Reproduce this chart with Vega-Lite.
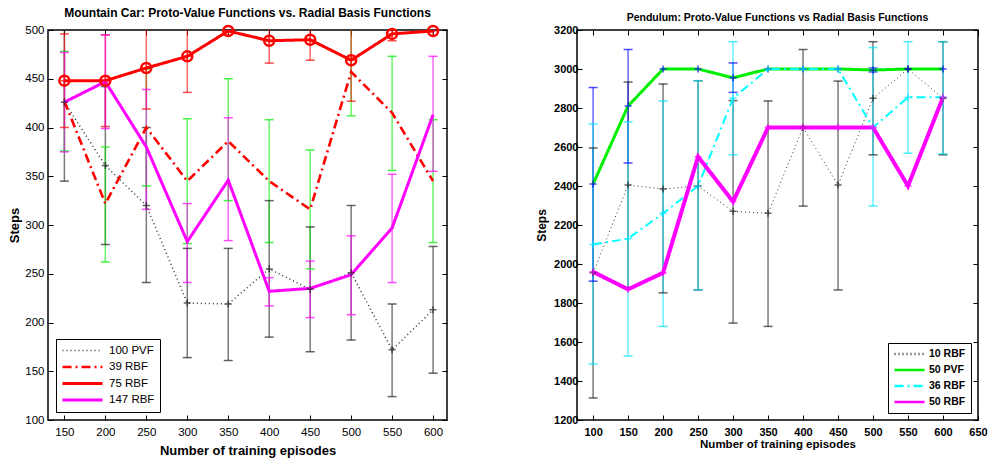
{
  "$schema": "https://vega.github.io/schema/vega-lite/v6.json",
  "background": "white",
  "padding": {"left": 8, "top": 6, "right": 5, "bottom": 0},
  "spacing": 85,
  "resolve": {"legend": {"color": "independent", "strokeDash": "independent"}},
  "config": {
    "font": "Liberation Sans",
    "view": {"stroke": "black", "strokeWidth": 1.5},
    "axis": {"domain": false, "grid": false, "tickColor": "black", "tickSize": -5, "tickWidth": 1, "labelColor": "black", "titleColor": "black", "labelFont": "Liberation Sans", "titleFont": "Liberation Sans", "format": "d", "labelFlush": false, "labelOverlap": false},
    "legend": {"strokeColor": "black", "fillColor": "white", "symbolType": "stroke", "titleFont": "Liberation Sans", "labelFont": "Liberation Sans", "labelColor": "black"}
  },
  "datasets": {
    "mc": [
      {"series": "100 PVF", "episodes": 150, "steps": 426, "lower": 345, "upper": 507},
      {"series": "100 PVF", "episodes": 200, "steps": 361, "lower": 280, "upper": 442},
      {"series": "100 PVF", "episodes": 250, "steps": 320, "lower": 241, "upper": 400},
      {"series": "100 PVF", "episodes": 300, "steps": 220, "lower": 164, "upper": 276},
      {"series": "100 PVF", "episodes": 350, "steps": 219, "lower": 161, "upper": 276},
      {"series": "100 PVF", "episodes": 400, "steps": 255, "lower": 185, "upper": 325},
      {"series": "100 PVF", "episodes": 450, "steps": 234, "lower": 170, "upper": 298},
      {"series": "100 PVF", "episodes": 500, "steps": 251, "lower": 182, "upper": 320},
      {"series": "100 PVF", "episodes": 550, "steps": 172, "lower": 124, "upper": 219},
      {"series": "100 PVF", "episodes": 600, "steps": 213, "lower": 148, "upper": 278},
      {"series": "39 RBF", "episodes": 150, "steps": 427, "lower": 376, "upper": 478},
      {"series": "39 RBF", "episodes": 200, "steps": 322, "lower": 262, "upper": 380},
      {"series": "39 RBF", "episodes": 250, "steps": 400, "lower": 340, "upper": 460},
      {"series": "39 RBF", "episodes": 300, "steps": 345, "lower": 281, "upper": 409},
      {"series": "39 RBF", "episodes": 350, "steps": 386, "lower": 325, "upper": 450},
      {"series": "39 RBF", "episodes": 400, "steps": 345, "lower": 282, "upper": 408},
      {"series": "39 RBF", "episodes": 450, "steps": 316, "lower": 255, "upper": 377},
      {"series": "39 RBF", "episodes": 500, "steps": 457, "lower": 412, "upper": 502},
      {"series": "39 RBF", "episodes": 550, "steps": 415, "lower": 356, "upper": 473},
      {"series": "39 RBF", "episodes": 600, "steps": 345, "lower": 282, "upper": 408},
      {"series": "75 RBF", "episodes": 150, "steps": 448, "lower": 400, "upper": 496},
      {"series": "75 RBF", "episodes": 200, "steps": 448, "lower": 401, "upper": 495},
      {"series": "75 RBF", "episodes": 250, "steps": 461, "lower": 419, "upper": 503},
      {"series": "75 RBF", "episodes": 300, "steps": 473, "lower": 436, "upper": 510},
      {"series": "75 RBF", "episodes": 350, "steps": 499, "lower": null, "upper": null},
      {"series": "75 RBF", "episodes": 400, "steps": 489, "lower": 466, "upper": 512},
      {"series": "75 RBF", "episodes": 450, "steps": 490, "lower": 469, "upper": 511},
      {"series": "75 RBF", "episodes": 500, "steps": 469, "lower": 427, "upper": 511},
      {"series": "75 RBF", "episodes": 550, "steps": 496, "lower": 489, "upper": 503},
      {"series": "75 RBF", "episodes": 600, "steps": 499, "lower": null, "upper": null},
      {"series": "147 RBF", "episodes": 150, "steps": 426, "lower": 375, "upper": 477},
      {"series": "147 RBF", "episodes": 200, "steps": 447, "lower": 399, "upper": 495},
      {"series": "147 RBF", "episodes": 250, "steps": 380, "lower": 316, "upper": 439},
      {"series": "147 RBF", "episodes": 300, "steps": 283, "lower": 241, "upper": 322},
      {"series": "147 RBF", "episodes": 350, "steps": 346, "lower": 284, "upper": 410},
      {"series": "147 RBF", "episodes": 400, "steps": 232, "lower": 217, "upper": 246},
      {"series": "147 RBF", "episodes": 450, "steps": 235, "lower": 205, "upper": 263},
      {"series": "147 RBF", "episodes": 500, "steps": 249, "lower": 208, "upper": 289},
      {"series": "147 RBF", "episodes": 550, "steps": 297, "lower": 241, "upper": 352},
      {"series": "147 RBF", "episodes": 600, "steps": 413, "lower": 355, "upper": 473}
    ],
    "pd": [
      {"series": "10 RBF", "episodes": 100, "steps": 1955, "lower": 1313, "upper": 2595},
      {"series": "10 RBF", "episodes": 150, "steps": 2405, "lower": 1877, "upper": 2933},
      {"series": "10 RBF", "episodes": 200, "steps": 2385, "lower": 1852, "upper": 2923},
      {"series": "10 RBF", "episodes": 250, "steps": 2400, "lower": 1867, "upper": 2940},
      {"series": "10 RBF", "episodes": 300, "steps": 2270, "lower": 1697, "upper": 2838},
      {"series": "10 RBF", "episodes": 350, "steps": 2260, "lower": 1680, "upper": 2836},
      {"series": "10 RBF", "episodes": 400, "steps": 2700, "lower": 2297, "upper": 3100},
      {"series": "10 RBF", "episodes": 450, "steps": 2405, "lower": 1867, "upper": 2938},
      {"series": "10 RBF", "episodes": 500, "steps": 2850, "lower": 2560, "upper": 3140},
      {"series": "10 RBF", "episodes": 550, "steps": 3000, "lower": null, "upper": null},
      {"series": "10 RBF", "episodes": 600, "steps": 2850, "lower": 2560, "upper": 3140},
      {"series": "50 PVF", "episodes": 100, "steps": 2410, "lower": 1912, "upper": 2905},
      {"series": "50 PVF", "episodes": 150, "steps": 2810, "lower": 2518, "upper": 3100},
      {"series": "50 PVF", "episodes": 200, "steps": 3000, "lower": null, "upper": null},
      {"series": "50 PVF", "episodes": 250, "steps": 3000, "lower": null, "upper": null},
      {"series": "50 PVF", "episodes": 300, "steps": 2955, "lower": 2880, "upper": 3031},
      {"series": "50 PVF", "episodes": 350, "steps": 3000, "lower": null, "upper": null},
      {"series": "50 PVF", "episodes": 400, "steps": 3000, "lower": null, "upper": null},
      {"series": "50 PVF", "episodes": 450, "steps": 3000, "lower": null, "upper": null},
      {"series": "50 PVF", "episodes": 500, "steps": 2995, "lower": 2985, "upper": 3005},
      {"series": "50 PVF", "episodes": 550, "steps": 3000, "lower": null, "upper": null},
      {"series": "50 PVF", "episodes": 600, "steps": 3000, "lower": null, "upper": null},
      {"series": "36 RBF", "episodes": 100, "steps": 2100, "lower": 1487, "upper": 2718},
      {"series": "36 RBF", "episodes": 150, "steps": 2130, "lower": 1528, "upper": 2728},
      {"series": "36 RBF", "episodes": 200, "steps": 2260, "lower": 1680, "upper": 2836},
      {"series": "36 RBF", "episodes": 250, "steps": 2400, "lower": 1867, "upper": 2940},
      {"series": "36 RBF", "episodes": 300, "steps": 2850, "lower": 2560, "upper": 3140},
      {"series": "36 RBF", "episodes": 350, "steps": 3000, "lower": null, "upper": null},
      {"series": "36 RBF", "episodes": 400, "steps": 3000, "lower": null, "upper": null},
      {"series": "36 RBF", "episodes": 450, "steps": 3000, "lower": null, "upper": null},
      {"series": "36 RBF", "episodes": 500, "steps": 2700, "lower": 2297, "upper": 3110},
      {"series": "36 RBF", "episodes": 550, "steps": 2855, "lower": 2568, "upper": 3140},
      {"series": "36 RBF", "episodes": 600, "steps": 2855, "lower": 2565, "upper": 3140},
      {"series": "50 RBF", "episodes": 100, "steps": 1960, "lower": null, "upper": null},
      {"series": "50 RBF", "episodes": 150, "steps": 1870, "lower": null, "upper": null},
      {"series": "50 RBF", "episodes": 200, "steps": 1955, "lower": null, "upper": null},
      {"series": "50 RBF", "episodes": 250, "steps": 2550, "lower": null, "upper": null},
      {"series": "50 RBF", "episodes": 300, "steps": 2320, "lower": null, "upper": null},
      {"series": "50 RBF", "episodes": 350, "steps": 2700, "lower": null, "upper": null},
      {"series": "50 RBF", "episodes": 400, "steps": 2700, "lower": null, "upper": null},
      {"series": "50 RBF", "episodes": 450, "steps": 2700, "lower": null, "upper": null},
      {"series": "50 RBF", "episodes": 500, "steps": 2700, "lower": null, "upper": null},
      {"series": "50 RBF", "episodes": 550, "steps": 2400, "lower": null, "upper": null},
      {"series": "50 RBF", "episodes": 600, "steps": 2855, "lower": null, "upper": null}
    ]
  },
  "hconcat": [
    {
      "width": 399,
      "height": 390,
      "data": {"name": "mc"},
      "title": {"text": "Mountain Car: Proto-Value Functions vs. Radial Basis Functions", "font": "Liberation Sans", "fontSize": 12, "fontWeight": "bold", "color": "black", "anchor": "middle", "offset": 1},
      "resolve": {"axis": {"x": "independent", "y": "independent"}},
      "layer": [
        {
          "transform": [{"filter": "isValid(datum.lower)"}],
          "mark": {"type": "rule", "clip": true, "strokeWidth": 1.5, "opacity": 0.6},
          "encoding": {
            "x": {"field": "episodes", "type": "quantitative", "scale": {"domain": [130, 617], "nice": false, "zero": false}, "axis": {"orient": "top", "labels": false, "title": null, "values": [150, 200, 250, 300, 350, 400, 450, 500, 550, 600]}},
            "y": {"field": "lower", "type": "quantitative", "scale": {"domain": [100, 500], "nice": false, "zero": false}, "axis": {"orient": "right", "labels": false, "title": null, "values": [100, 150, 200, 250, 300, 350, 400, 450, 500]}},
            "y2": {"field": "upper"},
            "stroke": {"field": "series", "type": "nominal", "scale": {"domain": ["100 PVF", "39 RBF", "75 RBF", "147 RBF", "10 RBF", "50 PVF", "36 RBF", "50 RBF"], "range": ["#222222", "#00ee00", "#ff0000", "#ff00ff", "#222222", "#0000ff", "#00e5ff", "#ff00ff"]}, "legend": null}
          }
        },
        {
          "transform": [{"filter": "isValid(datum.lower)"}],
          "mark": {"type": "tick", "orient": "horizontal", "clip": true, "size": 9, "thickness": 1.5, "opacity": 0.7},
          "encoding": {
            "x": {"field": "episodes", "type": "quantitative", "axis": null},
            "y": {"field": "lower", "type": "quantitative", "axis": null},
            "fill": {"field": "series", "type": "nominal", "scale": {"domain": ["100 PVF", "39 RBF", "75 RBF", "147 RBF", "10 RBF", "50 PVF", "36 RBF", "50 RBF"], "range": ["#222222", "#00ee00", "#ff0000", "#ff00ff", "#222222", "#0000ff", "#00e5ff", "#ff00ff"]}, "legend": null}
          }
        },
        {
          "transform": [{"filter": "isValid(datum.upper)"}],
          "mark": {"type": "tick", "orient": "horizontal", "clip": true, "size": 9, "thickness": 1.5, "opacity": 0.7},
          "encoding": {
            "x": {"field": "episodes", "type": "quantitative", "axis": null},
            "y": {"field": "upper", "type": "quantitative", "axis": null},
            "fill": {"field": "series", "type": "nominal", "legend": null}
          }
        },
        {
          "mark": {"type": "line", "clip": true},
          "encoding": {
            "x": {"field": "episodes", "type": "quantitative", "axis": {"title": "Number of training episodes", "titleFontSize": 13, "titleFontWeight": "bold", "labelFontSize": 11.5, "labelPadding": 11, "titlePadding": 7, "values": [150, 200, 250, 300, 350, 400, 450, 500, 550, 600]}},
            "y": {"field": "steps", "type": "quantitative", "axis": {"title": "Steps", "titleFontSize": 13, "titleFontWeight": "bold", "labelFontSize": 11.5, "labelPadding": 9, "titlePadding": 3, "values": [100, 150, 200, 250, 300, 350, 400, 450, 500]}},
            "color": {"field": "series", "type": "nominal", "scale": {"domain": ["100 PVF", "39 RBF", "75 RBF", "147 RBF", "10 RBF", "50 PVF", "36 RBF", "50 RBF"], "range": ["#333333", "#ff0000", "#ff0000", "#ff00ff", "#333333", "#00ee00", "#00ffff", "#ff00ff"]}, "legend": {"title": null, "values": ["100 PVF", "39 RBF", "75 RBF", "147 RBF"], "orient": "bottom-left", "offset": 8, "padding": 5, "symbolSize": 1600, "clipHeight": 13, "symbolStrokeWidth": 2.5, "labelFontSize": 11.5, "rowPadding": 3.5, "labelOffset": 5}},
            "strokeDash": {"field": "series", "type": "nominal", "scale": {"domain": ["100 PVF", "39 RBF", "75 RBF", "147 RBF", "10 RBF", "50 PVF", "36 RBF", "50 RBF"], "range": [[1, 3], [9, 4, 2, 4], [1, 0], [1, 0], [1, 3], [1, 0], [9, 4, 2, 4], [1, 0]]}, "legend": {"title": null, "values": ["100 PVF", "39 RBF", "75 RBF", "147 RBF"], "orient": "bottom-left", "offset": 8, "padding": 5, "symbolSize": 1600, "clipHeight": 13, "symbolStrokeWidth": 2.5, "labelFontSize": 11.5, "rowPadding": 3.5, "labelOffset": 5}},
            "strokeWidth": {"field": "series", "type": "nominal", "scale": {"type": "ordinal", "domain": ["100 PVF", "39 RBF", "75 RBF", "147 RBF", "10 RBF", "50 PVF", "36 RBF", "50 RBF"], "range": [1.5, 2.6, 3, 3, 1.5, 2.5, 2.5, 2.3]}, "legend": null}
          }
        },
        {
          "transform": [{"filter": "datum.series == '100 PVF' || datum.series == '75 RBF'"}],
          "mark": {"type": "point", "shape": "M-1,0H1M0,-1V1", "filled": false, "size": 50, "strokeWidth": 1.5, "clip": true},
          "encoding": {
            "x": {"field": "episodes", "type": "quantitative", "axis": null},
            "y": {"field": "steps", "type": "quantitative", "axis": null},
            "stroke": {"field": "series", "type": "nominal", "legend": null}
          }
        },
        {
          "transform": [{"filter": "datum.series == '75 RBF'"}],
          "mark": {"type": "point", "shape": "circle", "filled": false, "size": 100, "strokeWidth": 2.5, "color": "#ff0000", "opacity": 1, "clip": false},
          "encoding": {
            "x": {"field": "episodes", "type": "quantitative", "axis": null},
            "y": {"field": "steps", "type": "quantitative", "axis": null}
          }
        }
      ]
    },
    {
      "width": 401,
      "height": 390,
      "data": {"name": "pd"},
      "title": {"text": "Pendulum: Proto-Value Functions vs Radial Basis Functions", "font": "Liberation Sans", "fontSize": 10.5, "fontWeight": "bold", "color": "black", "anchor": "middle", "offset": 1},
      "resolve": {"axis": {"x": "independent", "y": "independent"}},
      "layer": [
        {
          "transform": [{"filter": "isValid(datum.lower)"}],
          "mark": {"type": "rule", "clip": true, "strokeWidth": 1.5, "opacity": 0.6},
          "encoding": {
            "x": {"field": "episodes", "type": "quantitative", "scale": {"domain": [77, 650], "nice": false, "zero": false}, "axis": {"orient": "top", "labels": false, "title": null, "values": [100, 150, 200, 250, 300, 350, 400, 450, 500, 550, 600, 650]}},
            "y": {"field": "lower", "type": "quantitative", "scale": {"domain": [1200, 3200], "nice": false, "zero": false}, "axis": {"orient": "right", "labels": false, "title": null, "values": [1200, 1400, 1600, 1800, 2000, 2200, 2400, 2600, 2800, 3000, 3200]}},
            "y2": {"field": "upper"},
            "stroke": {"field": "series", "type": "nominal", "legend": null}
          }
        },
        {
          "transform": [{"filter": "isValid(datum.lower)"}],
          "mark": {"type": "tick", "orient": "horizontal", "clip": true, "size": 9, "thickness": 1.5, "opacity": 0.7},
          "encoding": {
            "x": {"field": "episodes", "type": "quantitative", "axis": null},
            "y": {"field": "lower", "type": "quantitative", "axis": null},
            "fill": {"field": "series", "type": "nominal", "legend": null}
          }
        },
        {
          "transform": [{"filter": "isValid(datum.upper)"}],
          "mark": {"type": "tick", "orient": "horizontal", "clip": true, "size": 9, "thickness": 1.5, "opacity": 0.7},
          "encoding": {
            "x": {"field": "episodes", "type": "quantitative", "axis": null},
            "y": {"field": "upper", "type": "quantitative", "axis": null},
            "fill": {"field": "series", "type": "nominal", "legend": null}
          }
        },
        {
          "mark": {"type": "line", "clip": true},
          "encoding": {
            "x": {"field": "episodes", "type": "quantitative", "axis": {"title": "Number of training episodes", "titleFontSize": 11.5, "titleFontWeight": "bold", "labelFontSize": 11, "labelFontWeight": "bold", "labelPadding": 11, "titlePadding": 1, "values": [100, 150, 200, 250, 300, 350, 400, 450, 500, 550, 600, 650]}},
            "y": {"field": "steps", "type": "quantitative", "axis": {"title": "Steps", "titleFontSize": 12, "titleFontWeight": "bold", "labelFontSize": 11, "labelFontWeight": "bold", "labelPadding": 4, "titlePadding": 5, "values": [1200, 1400, 1600, 1800, 2000, 2200, 2400, 2600, 2800, 3000, 3200]}},
            "color": {"field": "series", "type": "nominal", "legend": {"title": null, "values": ["10 RBF", "50 PVF", "36 RBF", "50 RBF"], "orient": "bottom-right", "offset": 7, "padding": 5, "symbolSize": 900, "clipHeight": 12, "symbolStrokeWidth": 2.5, "labelFontSize": 10.5, "labelFontWeight": "bold", "rowPadding": 4, "labelOffset": 3}},
            "strokeDash": {"field": "series", "type": "nominal", "legend": {"title": null, "values": ["10 RBF", "50 PVF", "36 RBF", "50 RBF"], "orient": "bottom-right", "offset": 7, "padding": 5, "symbolSize": 900, "clipHeight": 12, "symbolStrokeWidth": 2.5, "labelFontSize": 10.5, "labelFontWeight": "bold", "rowPadding": 4, "labelOffset": 3}},
            "strokeWidth": {"field": "series", "type": "nominal", "legend": null}
          }
        },
        {
          "mark": {"type": "point", "shape": "M-1,0H1M0,-1V1", "filled": false, "size": 50, "strokeWidth": 1.5, "clip": true},
          "encoding": {
            "x": {"field": "episodes", "type": "quantitative", "axis": null},
            "y": {"field": "steps", "type": "quantitative", "axis": null},
            "stroke": {"field": "series", "type": "nominal", "legend": null}
          }
        }
      ]
    }
  ]
}
